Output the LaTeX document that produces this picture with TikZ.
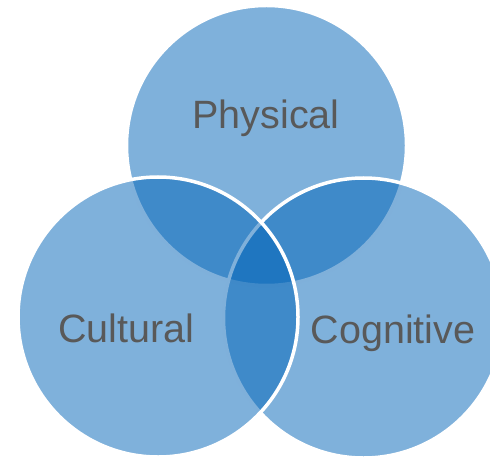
\documentclass[tikz,border=0pt]{standalone}
\usepackage{fontspec}
\setmainfont{Liberation Sans}
\definecolor{vennblue}{RGB}{0,99,183}
\definecolor{venntext}{RGB}{89,89,89}
\tikzset{
  venn/.style={circle, minimum size=280bp, inner sep=0pt, fill=vennblue, fill opacity=0.5, draw=white, draw opacity=1, line width=3.5bp},
  vlabel/.style={anchor=base, inner sep=0pt, text=venntext, font=\fontsize{39.5bp}{47bp}\selectfont}
}
\begin{document}
\begin{tikzpicture}[x=1bp,y=-1bp]
\useasboundingbox (0,0) rectangle (490,457);
\clip (0,0) rectangle (490,457);
\node[venn] (phys) at (266.5,145.5) {};
\node[venn] (cogn) at (363.5,318) {};
\node[venn] (cult) at (158,317) {};
\node[vlabel] (tphys) at (266,129) {Physical};
\node[vlabel] (tcult) at (126.5,342) {Cultural};
\node[vlabel] (tcogn) at (393,343) {Cognitive};
\end{tikzpicture}
\end{document}
